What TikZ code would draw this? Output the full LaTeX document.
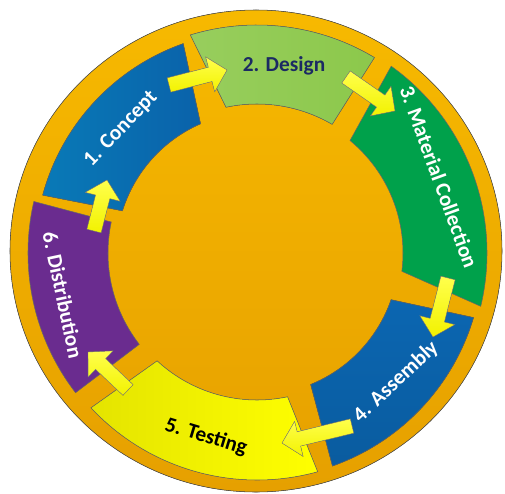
\documentclass[tikz,border=0pt]{standalone}
\usepackage{fontspec}
\setmainfont{Carlito}
\usetikzlibrary{calc}

\definecolor{ringtop}{HTML}{F7B900}
\definecolor{ringbot}{HTML}{E6A000}
\definecolor{conceptblue}{HTML}{0A62AA}
\definecolor{designgreen}{HTML}{8CC84B}
\definecolor{materialgreen}{HTML}{00A14B}
\definecolor{assemblyblue}{HTML}{0B66B1}
\definecolor{testyellow}{HTML}{E4E400}
\definecolor{distpurple}{HTML}{6A2C8F}
\definecolor{designnavy}{HTML}{1B2A63}
\definecolor{arrowyellow}{HTML}{F2F200}

% block arrow from the origin along x, length #1 (in pt)
\tikzset{
  pics/flowarrow/.style={code={
    \filldraw[arrowbody] (0pt,-5.5pt) -- ({#1-13pt},-5.5pt) -- ({#1-13pt},-13.5pt)
      -- ({#1+0pt},0pt) -- ({#1-13pt},13.5pt) -- ({#1-13pt},5.5pt) -- (0pt,5.5pt) -- cycle;
  }},
}
\newcommand\flowarrow[2]{%
  \path let \p1=(#1), \p2=(#2), \n1={atan2(\y2-\y1,\x2-\x1)}, \n2={veclen(\x2-\x1,\y2-\y1)}
    in pic[rotate=\n1] at (#1) {flowarrow=\n2};
}

\begin{document}
\begin{tikzpicture}[x=0.75pt, y=0.75pt,
  segment/.style={draw=black!60, line width=0.4pt},
  stagetext/.style={font=\fontsize{16}{18}\selectfont\bfseries, text=white, inner sep=0pt},
  arrowbody/.style={draw=black!50, line width=0.3pt, top color=yellow!70!white, bottom color=arrowyellow}]
\useasboundingbox (-257,-240) rectangle (248,253);

% outer ring
\filldraw[draw=black!70, line width=0.4pt, top color=ringtop, bottom color=ringbot] (-1,2) ellipse[x radius=246, y radius=241];

% the six stages
\filldraw[segment, left color=conceptblue!85!cyan, right color=conceptblue] (164.9:222) arc[start angle=164.9, end angle=109.4, radius=222] -- (113.6:141) arc[start angle=113.6, end angle=162.6, radius=141] -- cycle;
\filldraw[segment, left color=designgreen!90!white, right color=designgreen] (107:228) arc[start angle=107, end angle=59, radius=228] -- (59.7:149) arc[start angle=59.7, end angle=102, radius=149] -- cycle;
\filldraw[segment, fill=materialgreen] (54.3:230) arc[start angle=54.3, end angle=-13.4, radius=230] -- (-7.2:146) arc[start angle=-7.2, end angle=50.4, radius=146] -- cycle;
\filldraw[segment, top color=assemblyblue, bottom color=assemblyblue!90!black] (-16.6:226) arc[start angle=-16.6, end angle=-70.5, radius=226] -- (-67.8:142) arc[start angle=-67.8, end angle=-19.2, radius=142] -- cycle;
\filldraw[segment, left color=testyellow, right color=yellow] (285.5:227) arc[start angle=285.5, end angle=223, radius=227] -- (227.2:147) arc[start angle=227.2, end angle=282, radius=147] -- cycle;
\filldraw[segment, fill=distpurple] (217.6:229) arc[start angle=217.6, end angle=167, radius=229] -- (168:149) arc[start angle=168, end angle=217.8, radius=149] -- cycle;

\node[stagetext, rotate=46] (concept) at (-136,124) {1. Concept};
\node[stagetext, text=designnavy] (design) at (27,187) {2. Design};
\node[stagetext, rotate=-70] (material) at (182,76) {3. Material Collection};
\node[stagetext, rotate=43] (assembly) at (139,-129) {4. Assembly};
\node[stagetext, text=black, rotate=-17] (testing) at (-51,-184) {5. Testing};
\node[stagetext, rotate=-78] (distribution) at (-194,-42) {6. Distribution};

% arrow ends
\coordinate (t1) at (-88,168);  \coordinate (h1) at (-30,183);
\coordinate (t2) at (89,176);   \coordinate (h2) at (138,142);
\coordinate (t3) at (191,-25);  \coordinate (h3) at (176,-84);
\coordinate (t4) at (95,-173);  \coordinate (h4) at (25,-190);
\coordinate (t5) at (-129,-137);\coordinate (h5) at (-169,-99);
\coordinate (t6) at (-163,22);  \coordinate (h6) at (-150,73);
\foreach \i in {1,...,6} {\flowarrow{t\i}{h\i}}
\end{tikzpicture}
\end{document}
